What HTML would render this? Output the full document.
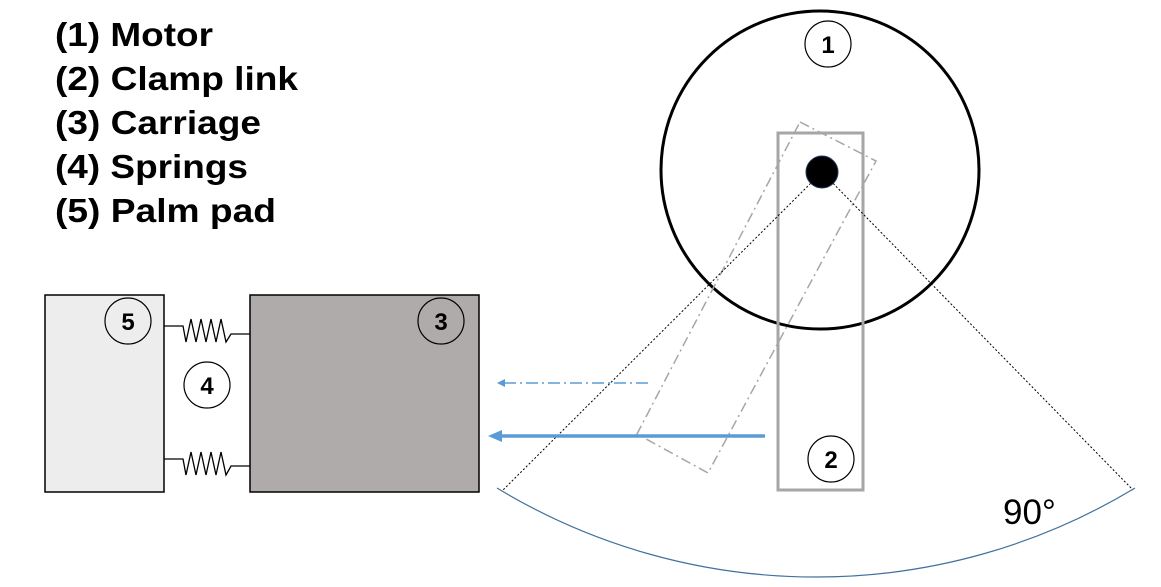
<!DOCTYPE html>
<html><head><meta charset="utf-8"><style>
html,body{margin:0;padding:0;background:#fff;}
svg{display:block;font-family:"Liberation Sans",Arial,sans-serif;}
</style></head><body>
<svg width="1161" height="587" viewBox="0 0 1161 587">
<g font-weight="bold" font-size="33" fill="#000">
<text x="55" y="46" textLength="158" lengthAdjust="spacingAndGlyphs">(1) Motor</text>
<text x="55" y="90" textLength="243" lengthAdjust="spacingAndGlyphs">(2) Clamp link</text>
<text x="55" y="134" textLength="206" lengthAdjust="spacingAndGlyphs">(3) Carriage</text>
<text x="55" y="178" textLength="193" lengthAdjust="spacingAndGlyphs">(4) Springs</text>
<text x="55" y="222" textLength="221" lengthAdjust="spacingAndGlyphs">(5) Palm pad</text>
</g>
<rect x="45" y="295" width="119" height="197" fill="#ededed" stroke="#000" stroke-width="1.5"/>
<rect x="250" y="295" width="229" height="197" fill="#afabaa" stroke="#000" stroke-width="1.5"/>
<polyline fill="none" stroke="#000" stroke-width="1.3" points="164,326 183,326 186,342 191,319 196,342 201,319 206,342 211,319 216,342 221,319 226,342 231,334 250,334"/>
<polyline fill="none" stroke="#000" stroke-width="1.3" points="164,459 183,459 186,475 191,452 196,475 201,452 206,475 211,452 216,475 221,452 226,475 231,466 250,466"/>
<g font-size="24" font-weight="bold" text-anchor="middle" fill="#000">
<circle cx="128" cy="321" r="23" fill="none" stroke="#000" stroke-width="1.2"/>
<text x="128" y="330">5</text>
<circle cx="441" cy="321" r="23" fill="none" stroke="#000" stroke-width="1.2"/>
<text x="441" y="330">3</text>
<circle cx="207" cy="385" r="23" fill="#fff" stroke="#000" stroke-width="1.2"/>
<text x="207" y="394">4</text>
</g>
<circle cx="820" cy="170" r="159" fill="none" stroke="#000" stroke-width="3"/>
<rect x="778" y="133" width="85" height="357" fill="none" stroke="#a6a6a6" stroke-width="3"/>
<polygon points="800,122 876,161 708,473 637,434" fill="none" stroke="#a6a6a6" stroke-width="1.5" stroke-dasharray="10,4,2,4"/>
<line x1="822" y1="172" x2="503" y2="490" stroke="#000" stroke-width="1" stroke-dasharray="2,2"/>
<line x1="822" y1="172" x2="1133" y2="490" stroke="#000" stroke-width="1" stroke-dasharray="2,2"/>
<circle cx="822" cy="172" r="16" fill="#000" stroke="#1f3a5a" stroke-width="1"/>
<path d="M497,488 A616,616 0 0 0 1135,488" fill="none" stroke="#41719c" stroke-width="1.2"/>
<line x1="648" y1="383" x2="504" y2="383" stroke="#5b9bd5" stroke-width="1.5" stroke-dasharray="12,4,2,4"/>
<polygon points="497,383 505,379 505,387" fill="#5b9bd5"/>
<line x1="765" y1="436" x2="500" y2="436" stroke="#5b9bd5" stroke-width="3.5"/>
<polygon points="488,436 502,430 502,442" fill="#5b9bd5"/>
<g font-size="24" font-weight="bold" text-anchor="middle" fill="#000">
<circle cx="828" cy="44" r="23" fill="none" stroke="#000" stroke-width="1.2"/>
<text x="828" y="53">1</text>
<circle cx="831" cy="459" r="23" fill="none" stroke="#000" stroke-width="1.2"/>
<text x="831" y="468">2</text>
</g>
<text x="1003" y="524" font-size="35" fill="#000">90°</text>
</svg>
</body></html>
